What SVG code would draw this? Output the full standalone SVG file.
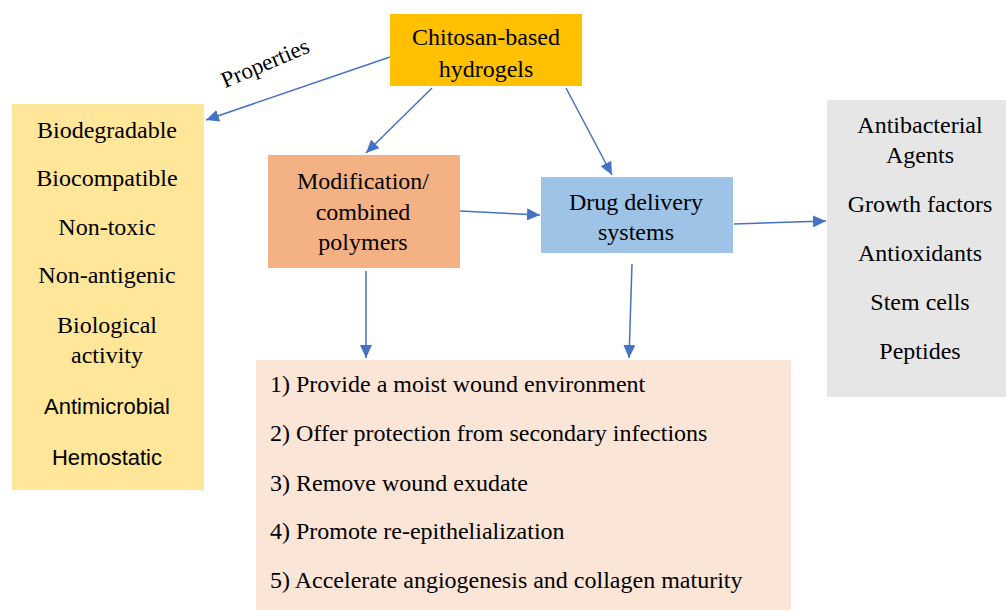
<svg xmlns="http://www.w3.org/2000/svg" width="1006" height="610" viewBox="0 0 1006 610">
<defs>
<marker id="ah" markerUnits="userSpaceOnUse" markerWidth="14" markerHeight="12" refX="13" refY="6" orient="auto">
<path d="M0,0 L13,6 L0,12 Z" fill="#4472C4"/>
</marker>
</defs>
<rect width="1006" height="610" fill="#fff"/>
<g id="connectors" stroke="#4472C4" stroke-width="1.5" fill="none">
<line x1="390" y1="57" x2="206" y2="120" marker-end="url(#ah)"/>
<line x1="432" y1="88" x2="366" y2="153" marker-end="url(#ah)"/>
<line x1="566" y1="88" x2="612" y2="175" marker-end="url(#ah)"/>
<line x1="460" y1="211" x2="540" y2="215" marker-end="url(#ah)"/>
<line x1="734" y1="224" x2="826" y2="221" marker-end="url(#ah)"/>
<line x1="366" y1="271" x2="366" y2="358" marker-end="url(#ah)"/>
<line x1="632" y1="264" x2="629" y2="358" marker-end="url(#ah)"/>
</g>
<text font-family="Liberation Serif" font-size="23" transform="translate(268,70) rotate(-23)" text-anchor="middle">Properties</text>
<g id="chitosan">
<rect x="390" y="14" width="192" height="72" fill="#FFC000"/>
<text font-family="Liberation Serif" font-size="24" text-anchor="middle" x="486" y="45">Chitosan-based</text>
<text font-family="Liberation Serif" font-size="24" text-anchor="middle" x="486" y="77">hydrogels</text>
</g>
<g id="properties">
<rect x="12" y="104" width="192" height="386" fill="#FFE699"/>
<text font-family="Liberation Serif" font-size="24" text-anchor="middle" x="107" y="138">Biodegradable</text>
<text font-family="Liberation Serif" font-size="24" text-anchor="middle" x="107" y="186">Biocompatible</text>
<text font-family="Liberation Serif" font-size="24" text-anchor="middle" x="107" y="235">Non-toxic</text>
<text font-family="Liberation Serif" font-size="24" text-anchor="middle" x="107" y="283">Non-antigenic</text>
<text font-family="Liberation Serif" font-size="24" text-anchor="middle" x="107" y="333">Biological</text>
<text font-family="Liberation Serif" font-size="24" text-anchor="middle" x="107" y="363">activity</text>
<text font-family="Liberation Sans" font-size="22" text-anchor="middle" x="107" y="414">Antimicrobial</text>
<text font-family="Liberation Sans" font-size="22" text-anchor="middle" x="107" y="465">Hemostatic</text>
</g>
<g id="modification">
<rect x="268" y="155" width="192" height="113" fill="#F4B183"/>
<text font-family="Liberation Serif" font-size="24" text-anchor="middle" x="363" y="189">Modification/</text>
<text font-family="Liberation Serif" font-size="24" text-anchor="middle" x="363" y="220">combined</text>
<text font-family="Liberation Serif" font-size="24" text-anchor="middle" x="363" y="250">polymers</text>
</g>
<g id="drug-delivery">
<rect x="541" y="177" width="192" height="76" fill="#9DC3E6"/>
<text font-family="Liberation Serif" font-size="24" text-anchor="middle" x="636" y="210">Drug delivery</text>
<text font-family="Liberation Serif" font-size="24" text-anchor="middle" x="636" y="240">systems</text>
</g>
<g id="agents">
<rect x="827" y="100" width="179" height="297" fill="#E7E6E6"/>
<text font-family="Liberation Serif" font-size="24" text-anchor="middle" x="920" y="133">Antibacterial</text>
<text font-family="Liberation Serif" font-size="24" text-anchor="middle" x="920" y="163">Agents</text>
<text font-family="Liberation Serif" font-size="24" text-anchor="middle" x="920" y="212">Growth factors</text>
<text font-family="Liberation Serif" font-size="24" text-anchor="middle" x="920" y="261">Antioxidants</text>
<text font-family="Liberation Serif" font-size="24" text-anchor="middle" x="920" y="310">Stem cells</text>
<text font-family="Liberation Serif" font-size="24" text-anchor="middle" x="920" y="359">Peptides</text>
</g>
<g id="functions">
<rect x="256" y="360" width="535" height="250" fill="#FBE5D6"/>
<text font-family="Liberation Serif" font-size="24" x="270" y="392">1) Provide a moist wound environment</text>
<text font-family="Liberation Serif" font-size="24" x="270" y="441">2) Offer protection from secondary infections</text>
<text font-family="Liberation Serif" font-size="24" x="270" y="491">3) Remove wound exudate</text>
<text font-family="Liberation Serif" font-size="24" x="270" y="539">4) Promote re-epithelialization</text>
<text font-family="Liberation Serif" font-size="24" x="270" y="588">5) Accelerate angiogenesis and collagen maturity</text>
</g>
</svg>
